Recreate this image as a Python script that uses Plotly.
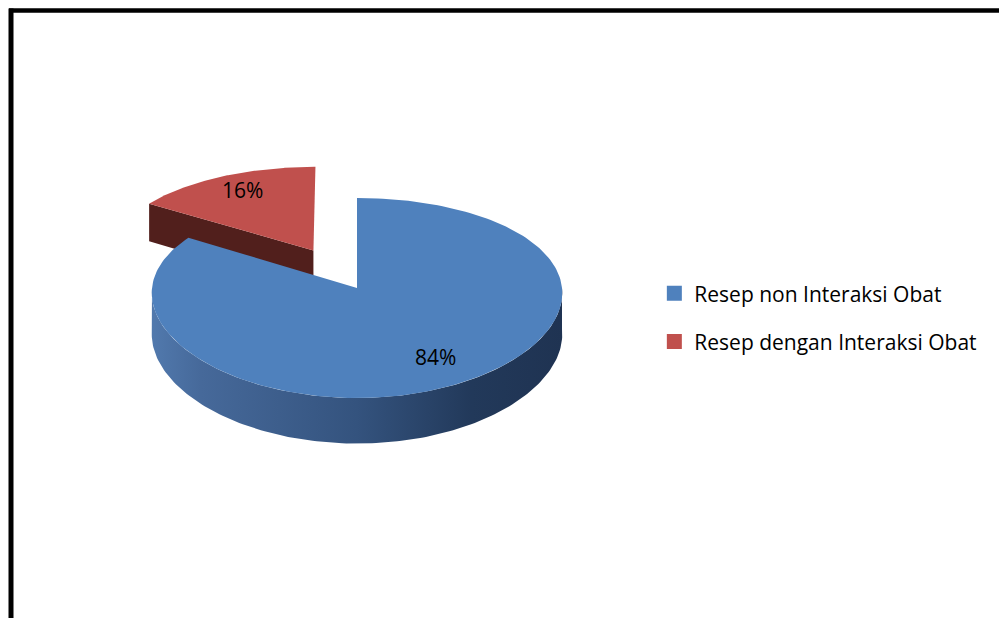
import numpy as np
import plotly.graph_objects as go

# Chart data
labels = ["Resep non Interaksi Obat", "Resep dengan Interaksi Obat"]
values = [84, 16]
top_colors = ["#4F81BD", "#C0504D"]
side_colors = ["#2E4A72", "#511F1C"]
side_gradients = [
    [[0, "#5179ad"], [0.12, "#46699a"], [0.5, "#34537e"], [0.78, "#22395a"], [1, "#1f3352"]],
    [[0, "#6a2a27"], [1, "#4a1c1a"]],
]
explode = [0.0, 0.45]

# Canvas and pie geometry (pixel-like coordinates, y grows downward)
W, H = 999, 618
CX, CY = 357, 288          # centre of the top face
RX, RY = 205, 99           # radii of the tilted disc
DEPTH = 41                 # thickness of the disc
PX, PY = 0.05, 0.10        # perspective shrink toward the back
LABEL_R = 0.77


def proj(u, v, z):
    """Project disc coords (u right, v back, z up 0..1) to canvas coords."""
    u = np.asarray(u, dtype=float)
    v = np.asarray(v, dtype=float)
    fx = 1.0 / (1.0 + PX * v)
    fy = 1.0 / (1.0 + PY * v)
    x = CX + RX * u * fx
    y = CY - RY * v * fy + DEPTH * (1.0 - z) * fy
    return x, y


# Slice angles: start at 12 o'clock, run clockwise
total = float(sum(values))
slices = []
start = 90.0
for i, val in enumerate(values):
    sweep = 360.0 * val / total
    a_hi = start
    a_lo = start - sweep
    mid = np.radians((a_hi + a_lo) / 2)
    du, dv = explode[i] * np.cos(mid), explode[i] * np.sin(mid)
    slices.append(dict(i=i, lo=a_lo, hi=a_hi, mid=mid, du=du, dv=dv))
    start = a_lo

fig = go.Figure()


def add_poly(xs, ys, color=None, gradient=None):
    kw = dict(x=np.r_[xs, xs[0]], y=np.r_[ys, ys[0]], mode="lines", fill="toself",
              line=dict(width=0), hoverinfo="skip", showlegend=False)
    if gradient is not None:
        kw["fillgradient"] = dict(type="horizontal", colorscale=gradient)
        kw["fillcolor"] = gradient[len(gradient) // 2][1]
    else:
        kw["fillcolor"] = color
    fig.add_trace(go.Scatter(**kw))


# Paint back slices first
for s in sorted(slices, key=lambda s: -np.sin(s["mid"])):
    i, du, dv = s["i"], s["du"], s["dv"]

    # radial cut faces that face the viewer
    for edge, normal in ((s["lo"], s["lo"] - 90), (s["hi"], s["hi"] + 90)):
        if np.sin(np.radians(normal)) < -1e-6:
            eu, ev = np.cos(np.radians(edge)), np.sin(np.radians(edge))
            uu = np.array([du, du + eu, du + eu, du])
            vv = np.array([dv, dv + ev, dv + ev, dv])
            zz = np.array([1, 1, 0, 0])
            x, y = proj(uu, vv, zz)
            add_poly(x, y, color=side_colors[i])

    # curved outer wall on the front half
    for k in range(-1, 2):
        lo = max(s["lo"], 180 + 360 * k)
        hi = min(s["hi"], 360 + 360 * k)
        if hi - lo > 0.1:
            t = np.radians(np.linspace(lo, hi, 160))
            uu = du + np.cos(t)
            vv = dv + np.sin(t)
            xt, yt = proj(uu, vv, 1)
            xb, yb = proj(uu[::-1], vv[::-1], 0)
            add_poly(np.r_[xt, xb], np.r_[yt, yb], gradient=side_gradients[i])

    # top face
    t = np.radians(np.linspace(s["lo"], s["hi"], 200))
    uu = np.r_[du, du + np.cos(t)]
    vv = np.r_[dv, dv + np.sin(t)]
    x, y = proj(uu, vv, 1)
    add_poly(x, y, color=top_colors[i])

# Percentage labels
lx, ly, lt = [], [], []
for s in slices:
    u = s["du"] + LABEL_R * np.cos(s["mid"])
    v = s["dv"] + LABEL_R * np.sin(s["mid"])
    x, y = proj(u, v, 1)
    lx.append(float(x))
    ly.append(float(y))
    lt.append(f"{values[s['i']] / total * 100:.0f}%")
fig.add_trace(go.Scatter(x=lx, y=ly, text=lt, mode="text", showlegend=False, hoverinfo="skip",
                         textfont=dict(family="Open Sans", size=21, color="#000000")))

# Legend entries
for i, name in enumerate(labels):
    fig.add_trace(go.Scatter(x=[None], y=[None], mode="markers", name=name, legendgroup=name,
                             marker=dict(symbol="square", size=15, color=top_colors[i])))

# Chart frame (top and left edges)
fig.add_shape(type="line", xref="x", yref="y", x0=9, x1=W, y0=10.5, y1=10.5,
              line=dict(color="#000000", width=4.5))
fig.add_shape(type="line", xref="x", yref="y", x0=11, x1=11, y0=8.5, y1=H,
              line=dict(color="#000000", width=5))

fig.update_layout(
    width=W, height=H, autosize=False,
    margin=dict(l=0, r=0, t=0, b=0),
    paper_bgcolor="#ffffff", plot_bgcolor="#ffffff",
    xaxis=dict(range=[0, W], visible=False, fixedrange=True),
    yaxis=dict(range=[H, 0], visible=False, fixedrange=True),
    legend=dict(x=0.655, y=0.558, xanchor="left", yanchor="top",
                font=dict(family="Open Sans", size=21, color="#000000"),
                traceorder="grouped", tracegroupgap=18,
                bgcolor="rgba(0,0,0,0)", borderwidth=0, itemsizing="trace"),
    showlegend=True,
)

fig.write_html("out.html")
